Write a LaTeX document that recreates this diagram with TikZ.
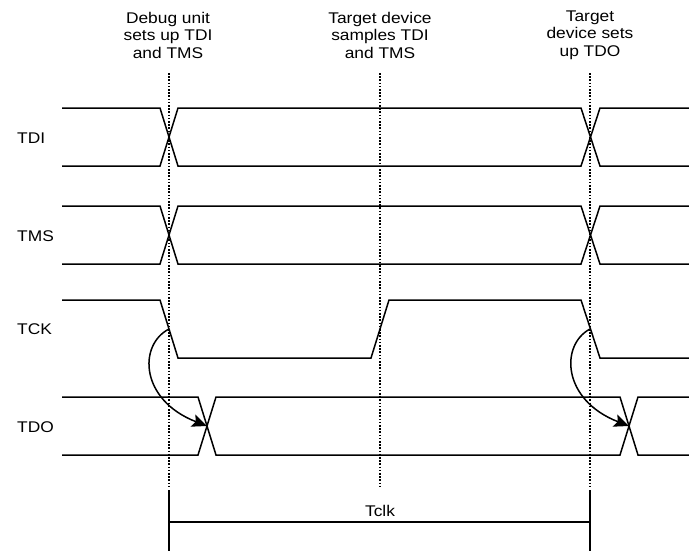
\documentclass[tikz,border=0pt]{standalone}
\usepackage{fontspec}
\setmainfont[FakeStretch=1.12]{Liberation Sans}
\usetikzlibrary{arrows.meta}
\tikzset{
  sig/.style={draw=black,line width=1.5pt,line join=miter},
  guide/.style={draw=black,line width=1.3pt,dash pattern=on 1.6pt off 1.6pt},
  signame/.style={font=\fontsize{15.5}{17}\selectfont,inner sep=0pt},
  event/.style={font=\fontsize{15.5}{17.5}\selectfont,align=center,inner sep=0pt},
  cause/.style={draw=black,line width=1.5pt,-{Stealth[length=15pt,width=13pt,inset=3pt]}},
}

\begin{document}
\begin{tikzpicture}[x=1pt,y=-1pt]
\useasboundingbox (0,0) rectangle (689,552);
% event lines
\foreach \x in {169,380,590}
  \draw[guide] (\x,73) -- (\x,488);
\node[event] (setup) at (168,35) {Debug unit\\sets up TDI\\and TMS};
\node[event] (sample) at (380,35) {Target device\\samples TDI\\and TMS};
\node[event] (out) at (590,35) {Target\\device sets\\up TDO};
% signal names
\node[signame,anchor=west] (TDI) at (17,138) {TDI};
\node[signame,anchor=west] (TMS) at (17,236) {TMS};
\node[signame,anchor=west] (TCK) at (17,329) {TCK};
\node[signame,anchor=west] (TDO) at (17,427) {TDO};
% TDI and TMS
\foreach \h in {108,206}{
  \draw[sig] (62,\h) -- (160,\h) -- (178,\h+58) -- (581,\h+58) -- (600,\h) -- (689,\h);
  \draw[sig] (62,\h+58) -- (160,\h+58) -- (178,\h) -- (581,\h) -- (600,\h+58) -- (689,\h+58);
}
% TCK
\draw[sig] (62,300) -- (160,300) -- (178,358) -- (371,358) -- (389,300) -- (581,300)
  -- (600,358) -- (689,358);
% TDO
\draw[sig] (62,397) -- (198,397) -- (216,455) -- (620,455) -- (638,397) -- (689,397);
\draw[sig] (62,455) -- (198,455) -- (216,397) -- (620,397) -- (638,455) -- (689,455);
\coordinate (fall1) at (169,329);
\coordinate (fall2) at (590,329);
\coordinate (cross1) at (207,426);
\coordinate (cross2) at (629,426);
\draw[cause] (fall1) .. controls (138,345) and (140,400) .. (cross1);
\draw[cause] (fall2) .. controls (560,345) and (562,400) .. (cross2);
% clock period
\coordinate (p1) at (169,522);
\coordinate (p2) at (590,522);
\draw[line width=1.3pt] (169,490) -- (169,551) (590,490) -- (590,551);
\draw[line width=1.3pt] (p1) -- (p2);
\node[signame] (Tclk) at (380,511) {Tclk};
\end{tikzpicture}
\end{document}
